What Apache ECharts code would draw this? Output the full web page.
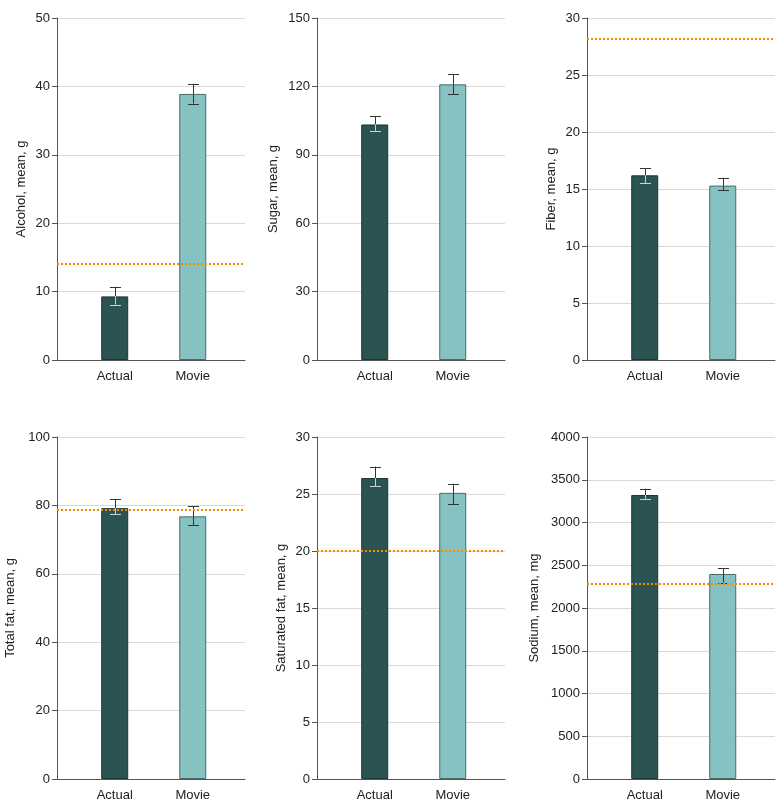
<!DOCTYPE html>
<html>
<head>
<meta charset="utf-8">
<script src="https://cdn.jsdelivr.net/npm/echarts@6/dist/echarts.min.js"></script>
<style>
html,body{margin:0;padding:0;background:#fff;}
#chart{width:783px;height:812px;}
</style>
</head>
<body>
<div id="chart"></div>
<script>
// ---- Data ----
const categories = ['Actual', 'Movie'];
const axisTitles = ['Alcohol, mean, g', 'Sugar, mean, g', 'Fiber, mean, g', 'Total fat, mean, g', 'Saturated fat, mean, g', 'Sodium, mean, mg'];
const actualMeans = [9.3, 103.3, 16.2, 79.2, 26.4, 3322];
const actualLow   = [8.1, 100.5, 15.5, 77.4, 25.7, 3275];
const actualHigh  = [10.7, 106.8, 16.8, 81.9, 27.4, 3396];
const movieMeans  = [38.9, 120.9, 15.3, 76.8, 25.1, 2398];
const movieLow    = [37.5, 116.5, 14.9, 74.3, 24.1, 2296];
const movieHigh   = [40.3, 125.3, 16.0, 79.8, 25.9, 2468];
const referenceValues = [14, null, 28.2, 78.6, 20, 2280];
const yMax = [50, 150, 30, 100, 30, 4000];
const yInterval = [10, 30, 5, 20, 5, 500];

// ---- Layout / style ----
const FONT = 'Liberation Sans';
const lefts = [57, 317, 587];
const tops = [18, 437];
const nameGaps = [29, 37, 29, 40, 29, 46];
const actualColor = '#2b5352', actualBorder = '#1c3636';
const movieColor = '#85c2c1', movieBorder = '#4b6a69';
const refColor = '#f28c00';

const chart = echarts.init(document.getElementById('chart'), null, {renderer: 'canvas'});
const grid = [], xAxis = [], yAxis = [], series = [];

function errorRender(insideColor) {
  return function (params, api) {
    const x = api.value(0);
    const lo = api.coord([x, api.value(1)]);
    const hi = api.coord([x, api.value(2)]);
    const mid = api.coord([x, api.value(3)]);
    const cx = Math.round(lo[0]) + 0.5;
    const half = 5.5;
    const dark = '#333';
    return {
      type: 'group',
      children: [
        {type: 'line', shape: {x1: cx, y1: mid[1], x2: cx, y2: hi[1]}, style: {stroke: dark, lineWidth: 1}},
        {type: 'line', shape: {x1: cx, y1: lo[1], x2: cx, y2: mid[1]}, style: {stroke: insideColor, lineWidth: 1}},
        {type: 'line', shape: {x1: cx - half, y1: Math.round(hi[1]) + 0.5, x2: cx + half, y2: Math.round(hi[1]) + 0.5}, style: {stroke: dark, lineWidth: 1}},
        {type: 'line', shape: {x1: cx - half, y1: Math.round(lo[1]) + 0.5, x2: cx + half, y2: Math.round(lo[1]) + 0.5}, style: {stroke: insideColor, lineWidth: 1}}
      ]
    };
  };
}

for (let i = 0; i < 6; i++) {
  const row = Math.floor(i / 3), col = i % 3;
  grid.push({left: lefts[col], top: tops[row], width: 188, height: 342, containLabel: false});
  xAxis.push({
    type: 'value', gridIndex: i, min: 0.26, max: 2.67,
    splitLine: {show: false},
    axisLine: {show: true, onZero: false, lineStyle: {color: '#555', width: 1}},
    axisTick: {show: false},
    axisLabel: {
      customValues: [1, 2], margin: 10,
      formatter: v => categories[Math.round(v) - 1] || '',
      color: '#222', fontFamily: FONT, fontSize: 13
    }
  });
  yAxis.push({
    type: 'value', gridIndex: i, min: 0, max: yMax[i], interval: yInterval[i],
    name: axisTitles[i], nameLocation: 'middle', nameGap: nameGaps[i], nameRotate: 90,
    nameTextStyle: {color: '#222', fontFamily: FONT, fontSize: 13},
    axisLine: {show: true, lineStyle: {color: '#555', width: 1}},
    axisTick: {show: true, length: 5, lineStyle: {color: '#555'}},
    axisLabel: {color: '#222', fontFamily: FONT, fontSize: 13, margin: 7, formatter: v => String(v)},
    splitLine: {show: true, lineStyle: {color: '#d9d9d9', width: 1}}
  });
  const bar = {
    type: 'bar', xAxisIndex: i, yAxisIndex: i, barWidth: 27, silent: true,
    data: [
      {value: [1, actualMeans[i]], itemStyle: {color: actualColor, borderColor: actualBorder, borderWidth: 1}},
      {value: [2, movieMeans[i]], itemStyle: {color: movieColor, borderColor: movieBorder, borderWidth: 1}}
    ],
    z: 2
  };
  if (referenceValues[i] !== null) {
    bar.markLine = {
      silent: true, symbol: 'none', label: {show: false},
      lineStyle: {color: refColor, type: 'dotted', width: 2},
      data: [{yAxis: referenceValues[i]}], z: 5
    };
  }
  series.push(bar);
  series.push({
    type: 'custom', xAxisIndex: i, yAxisIndex: i, silent: true, z: 4,
    renderItem: errorRender('#c8d4d4'),
    data: [[1, actualLow[i], actualHigh[i], actualMeans[i]]]
  });
  series.push({
    type: 'custom', xAxisIndex: i, yAxisIndex: i, silent: true, z: 4,
    renderItem: errorRender('#333'),
    data: [[2, movieLow[i], movieHigh[i], movieMeans[i]]]
  });
}

chart.setOption({
  animation: false,
  backgroundColor: '#fff',
  grid, xAxis, yAxis, series
});
</script>
</body>
</html>
